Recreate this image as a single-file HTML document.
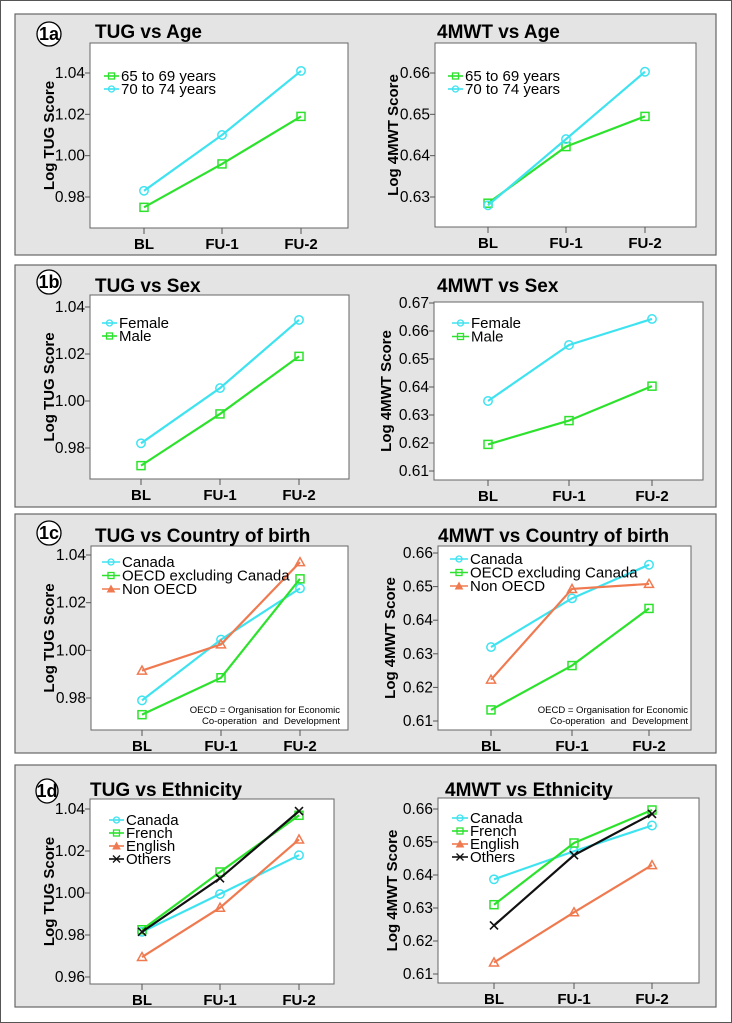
<!DOCTYPE html>
<html><head><meta charset="utf-8"><style>
html,body{margin:0;padding:0;background:#fff;}
svg{display:block;font-family:"Liberation Sans",Arial,sans-serif;}
</style></head><body>
<svg id="s" width="732" height="1023" xmlns="http://www.w3.org/2000/svg">
<rect x="0.5" y="0.5" width="731" height="1022" fill="#fff" stroke="#555"/>
</svg>
<script>
const S=document.getElementById('s');const NS='http://www.w3.org/2000/svg';
function el(t,a,txt){const e=document.createElementNS(NS,t);for(const k in a)e.setAttribute(k,a[k]);if(txt!==undefined)e.textContent=txt;S.appendChild(e);return e;}
const C={c:'#3fe3f0',g:'#2de22d',o:'#f07a50',k:'#111'};
function marker(type,x,y,col){
 if(type==='c')el('circle',{cx:x,cy:y,r:4.2,fill:'#fff','fill-opacity':0,stroke:col,'stroke-width':1.5});
 else if(type==='g')el('rect',{x:x-4,y:y-4,width:8,height:8,fill:'none',stroke:col,'stroke-width':1.5});
 else if(type==='o')el('path',{d:`M${x-4.5},${y+3.5}L${x},${y-4.5}L${x+4.5},${y+3.5}Z`,fill:'none',stroke:col,'stroke-width':1.5});
 else el('path',{d:`M${x-4},${y-4}L${x+4},${y+4}M${x-4},${y+4}L${x+4},${y-4}`,stroke:col,'stroke-width':1.6});
}
function legmark(type,x,y,col){
 if(type==='c')el('circle',{cx:x,cy:y,r:3,fill:'none',stroke:col,'stroke-width':1.3});
 else if(type==='g')el('rect',{x:x-3,y:y-3,width:6,height:6,fill:'none',stroke:col,'stroke-width':1.3});
 else if(type==='o')el('path',{d:`M${x-3.5},${y+3}L${x},${y-3.5}L${x+3.5},${y+3}Z`,fill:col,stroke:col,'stroke-width':1});
 else el('path',{d:`M${x-3.5},${y-3.5}L${x+3.5},${y+3.5}M${x-3.5},${y+3.5}L${x+3.5},${y-3.5}`,stroke:col,'stroke-width':1.3});
}
function panel(y0,y1,lab,cx,cy,rx){
 el('rect',{x:15,y:y0,width:701,height:y1-y0,fill:'#e4e4e4',stroke:'#666','stroke-width':1.2});
 el('ellipse',{cx:cx,cy:cy,rx:rx,ry:12,fill:'#fff',stroke:'#000','stroke-width':1.3});
 el('text',{x:cx,y:cy+6,'text-anchor':'middle','font-size':18,'font-weight':'bold'},lab);
}
function chart(o){
 const {x0,x1,y0,y1,ticks,cats,title,tx,ty,ylab,ylx,series,leg,note}=o;
 el('rect',{x:x0,y:y0,width:x1-x0,height:y1-y0,fill:'#fff',stroke:'#666','stroke-width':1});
 el('text',{x:tx,y:ty,'font-size':19,'font-weight':'bold'},title);
 const [v0,p0,v1,p1]=ticks.map;const Y=v=>p0+(v-v0)*(p1-p0)/(v1-v0);
 ticks.vals.forEach(v=>{const y=Y(v);el('line',{x1:x0-5,x2:x0,y1:y,y2:y,stroke:'#555'});
  el('text',{x:x0-5,y:y+5,'text-anchor':'end','font-size':15.5},v.toFixed(2));});
 const names=['BL','FU-1','FU-2'];
 cats.forEach((x,i)=>{el('line',{x1:x,x2:x,y1:y1,y2:y1+6,stroke:'#555'});
  el('text',{x:x,y:y1+21,'text-anchor':'middle','font-size':15,'font-weight':'bold'},names[i]);});
 const my=(y0+y1)/2;
 el('text',{x:ylx,y:my,'text-anchor':'middle','font-size':15,'font-weight':'bold',transform:`rotate(-90 ${ylx} ${my})`},ylab);
 series.forEach(s=>{const pts=s.v.map((v,i)=>[cats[i],Y(v)]);
  el('polyline',{points:pts.map(p=>p.join(',')).join(' '),fill:'none',stroke:C[s.t],'stroke-width':2.2});
  pts.forEach(p=>marker(s.t,p[0],p[1],C[s.t]));});
 leg.items.forEach((it,i)=>{const y=leg.y+i*leg.dy;
  el('line',{x1:leg.x,x2:leg.x+leg.w,y1:y,y2:y,stroke:C[it.t],'stroke-width':1.6});
  legmark(it.t,leg.x+leg.w/2,y,C[it.t]);
  el('text',{x:leg.x+leg.w+2,y:y+5,'font-size':leg.fs||15},it.n);});
 if(note){el('text',{x:note.x,y:note.y,'font-size':9.5,'text-anchor':'end'},'OECD = Organisation for Economic');
  el('text',{x:note.x,y:note.y+11,'font-size':9.5,'text-anchor':'end','word-spacing':'3'},'Co-operation and Development');}
}
// 1a
panel(14,255,'1a',49,34,12);
chart({x0:90,x1:348,y0:43,y1:228,ticks:{vals:[0.98,1.00,1.02,1.04],map:[0.98,197,1.04,73]},cats:[144,222,301],
 title:'TUG vs Age',tx:95,ty:38,ylab:'Log TUG Score',ylx:54,
 series:[{t:'g',v:[0.975,0.996,1.019]},{t:'c',v:[0.983,1.010,1.041]}],
 leg:{x:104,y:76,dy:13,w:15,items:[{t:'g',n:'65 to 69 years'},{t:'c',n:'70 to 74 years'}]}});
chart({x0:435,x1:696,y0:43,y1:227,ticks:{vals:[0.63,0.64,0.65,0.66],map:[0.63,197,0.66,73]},cats:[488,566,645],
 title:'4MWT vs Age',tx:437,ty:38,ylab:'Log 4MWT Score',ylx:398,
 series:[{t:'g',v:[0.6285,0.6422,0.6495]},{t:'c',v:[0.628,0.644,0.6603]}],
 leg:{x:448,y:76,dy:13,w:15,items:[{t:'g',n:'65 to 69 years'},{t:'c',n:'70 to 74 years'}]}});
// 1b
panel(265,507,'1b',49,282,12);
chart({x0:90,x1:349,y0:295,y1:479,ticks:{vals:[0.98,1.00,1.02,1.04],map:[0.98,448,1.04,307]},cats:[141,220,299],
 title:'TUG vs Sex',tx:95,ty:292,ylab:'Log TUG Score',ylx:54,
 series:[{t:'c',v:[0.982,1.0055,1.0345]},{t:'g',v:[0.9725,0.9945,1.019]}],
 leg:{x:102,y:323,dy:13,w:15,items:[{t:'c',n:'Female'},{t:'g',n:'Male'}]}});
chart({x0:434,x1:703,y0:302,y1:480,ticks:{vals:[0.61,0.62,0.63,0.64,0.65,0.66,0.67],map:[0.61,471,0.67,303]},cats:[488,569,652],
 title:'4MWT vs Sex',tx:437,ty:292,ylab:'Log 4MWT Score',ylx:391,
 series:[{t:'c',v:[0.635,0.655,0.6643]},{t:'g',v:[0.6195,0.628,0.6403]}],
 leg:{x:452,y:323,dy:13.5,w:17,items:[{t:'c',n:'Female'},{t:'g',n:'Male'}]}});
// 1c
panel(514,753,'1c',49,533,12);
chart({x0:91,x1:348,y0:546,y1:730,ticks:{vals:[0.98,1.00,1.02,1.04],map:[0.98,698,1.04,555]},cats:[142,221,300],
 title:'TUG vs Country of birth',tx:95,ty:542,ylab:'Log TUG Score',ylx:54,
 series:[{t:'c',v:[0.979,1.0045,1.026]},{t:'g',v:[0.973,0.9885,1.030]},{t:'o',v:[0.9915,1.0025,1.037]}],
 leg:{x:102,y:562,dy:13.5,w:18,items:[{t:'c',n:'Canada'},{t:'g',n:'OECD excluding Canada'},{t:'o',n:'Non OECD'}]},
 note:{x:340,y:713}});
chart({x0:438,x1:691,y0:546,y1:730,ticks:{vals:[0.61,0.62,0.63,0.64,0.65,0.66],map:[0.61,721,0.66,553]},cats:[491,572,649],
 title:'4MWT vs Country of birth',tx:438,ty:542,ylab:'Log 4MWT Score',ylx:395,
 series:[{t:'c',v:[0.632,0.6465,0.6565]},{t:'g',v:[0.6133,0.6265,0.6435]},{t:'o',v:[0.6223,0.6493,0.6508]}],
 leg:{x:450,y:559,dy:13.5,w:18,items:[{t:'c',n:'Canada'},{t:'g',n:'OECD excluding Canada'},{t:'o',n:'Non OECD'}]},
 note:{x:688,y:713}});
// 1d
panel(765,1007,'1d',47,791,11);
chart({x0:90,x1:334,y0:799,y1:984,ticks:{vals:[0.96,0.98,1.00,1.02,1.04],map:[0.96,977,1.04,809]},cats:[142,220,299],
 title:'TUG vs Ethnicity',tx:90,ty:796,ylab:'Log TUG Score',ylx:54,
 series:[{t:'c',v:[0.9815,0.9995,1.018]},{t:'g',v:[0.9825,1.010,1.037]},{t:'o',v:[0.9695,0.993,1.0255]},{t:'k',v:[0.9815,1.007,1.039]}],
 leg:{x:109,y:820,dy:13,w:15,items:[{t:'c',n:'Canada'},{t:'g',n:'French'},{t:'o',n:'English'},{t:'k',n:'Others'}]}});
chart({x0:438,x1:699,y0:798,y1:983,ticks:{vals:[0.61,0.62,0.63,0.64,0.65,0.66],map:[0.61,974,0.66,809]},cats:[494,574,652],
 title:'4MWT vs Ethnicity',tx:445,ty:796,ylab:'Log 4MWT Score',ylx:397,
 series:[{t:'c',v:[0.6387,0.6472,0.655]},{t:'g',v:[0.631,0.6497,0.6597]},{t:'o',v:[0.6135,0.6287,0.643]},{t:'k',v:[0.6247,0.646,0.6585]}],
 leg:{x:452,y:818,dy:13,w:16,items:[{t:'c',n:'Canada'},{t:'g',n:'French'},{t:'o',n:'English'},{t:'k',n:'Others'}]}});
</script>
</body></html>
